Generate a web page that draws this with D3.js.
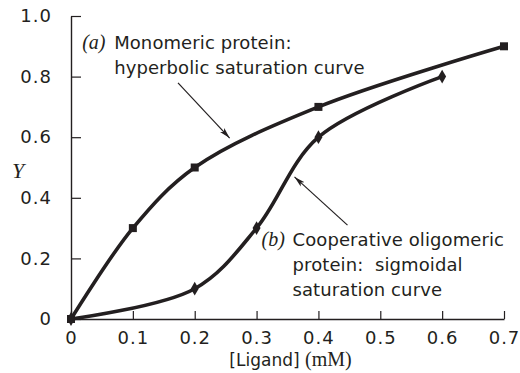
<!DOCTYPE html>
<html>
<head>
<meta charset="utf-8">
<script src="https://cdn.jsdelivr.net/npm/d3@7"></script>
<style>
  html, body { margin: 0; padding: 0; background: #fff; }
  svg { display: block; }
  .tick text { font-family: "DejaVu Sans", sans-serif; font-size: 18px; letter-spacing: 1px; fill: #231f20; }
  .ann { font-family: "DejaVu Sans", sans-serif; font-size: 18px; letter-spacing: 0.1px; fill: #231f20; }
  .it { font-family: "Liberation Serif", serif; font-style: italic; }
</style>
</head>
<body>
<svg id="chart" width="520" height="373"></svg>
<script>
// Fractional saturation Y versus ligand concentration (mM)
const xTicks = [0, 0.1, 0.2, 0.3, 0.4, 0.5, 0.6, 0.7];
const yTicks = [0, 0.2, 0.4, 0.6, 0.8, 1.0];
const monoLigand = [0, 0.1, 0.2, 0.4, 0.7];
const monoY      = [0, 0.3, 0.5, 0.7, 0.9];
const coopLigand = [0, 0.2, 0.3, 0.4, 0.6];
const coopY      = [0, 0.1, 0.3, 0.6, 0.8];

const ink = "#231f20";
const svg = d3.select("#chart");
const margin = { left: 71, right: 15, top: 16, bottom: 54 };
const W = 520, H = 373;

const x = d3.scaleLinear().domain([0, 0.7]).range([margin.left, W - margin.right - 1]);
const y = d3.scaleLinear().domain([0, 1]).range([H - margin.bottom, margin.top]);

// axes: ticks point inward
const xAxis = d3.axisBottom(x).tickValues(xTicks).tickSizeInner(-8).tickSizeOuter(0)
  .tickPadding(12).tickFormat(d => d === 0 ? "0" : d3.format(".1f")(d));
const yAxis = d3.axisLeft(y).tickValues(yTicks).tickSizeInner(-10).tickSizeOuter(0)
  .tickPadding(19).tickFormat(d => d === 0 ? "0" : d3.format(".1f")(d));

const gx = svg.append("g").attr("transform", `translate(0,${y(0)})`).call(xAxis);
const gy = svg.append("g").attr("transform", `translate(${x(0)},0)`).call(yAxis);
[gx, gy].forEach(g => {
  g.select(".domain").attr("stroke", ink).attr("stroke-width", 1.4);
  g.selectAll(".tick line").attr("stroke", ink).attr("stroke-width", 1.2);
  g.selectAll(".tick text").attr("fill", ink);
});
gx.selectAll(".tick text").attr("dy", "0.7em");

// axis titles
svg.append("text").attr("class", "it").attr("x", 18).attr("y", y(0.465))
  .attr("text-anchor", "middle").attr("font-size", 22).attr("fill", ink).text("Y");
const xt = svg.append("text").attr("x", (x(0) + x(0.7)) / 2 + 3).attr("y", 366)
  .attr("text-anchor", "middle").attr("fill", ink);
xt.append("tspan").attr("font-family", "DejaVu Sans, sans-serif").attr("font-size", 17).text("[Ligand] ");
xt.append("tspan").attr("font-family", "Liberation Serif, serif").attr("font-size", 20).text("(mM)");

// curves
const line = d3.line().x(d => x(d[0])).y(d => y(d[1])).curve(d3.curveCatmullRom.alpha(0.5));
const mono = monoLigand.map((v, i) => [v, monoY[i]]);
const coop = coopLigand.map((v, i) => [v, coopY[i]]);

svg.append("path").datum(mono).attr("d", line).attr("fill", "none")
  .attr("stroke", ink).attr("stroke-width", 3.6);
svg.append("path").datum(coop).attr("d", line).attr("fill", "none")
  .attr("stroke", ink).attr("stroke-width", 3.6);

// markers: squares for monomeric, diamonds for cooperative
svg.selectAll("rect.sq").data(mono).join("rect").attr("class", "sq")
  .attr("x", d => x(d[0]) - 4).attr("y", d => y(d[1]) - 4)
  .attr("width", 8).attr("height", 8).attr("fill", ink);
svg.selectAll("path.dm").data(coop).join("path").attr("class", "dm")
  .attr("d", d3.symbol(d3.symbolDiamond, 55))
  .attr("transform", d => `translate(${x(d[0])},${y(d[1])})`).attr("fill", ink);

// arrowhead
svg.append("defs").append("marker").attr("id", "ah")
  .attr("viewBox", "0 0 11 7").attr("refX", 11).attr("refY", 3.5)
  .attr("markerWidth", 11).attr("markerHeight", 7).attr("markerUnits", "userSpaceOnUse")
  .attr("orient", "auto")
  .append("path").attr("d", "M0,0.6 L11,3.5 L0,6.4 L2.5,3.5 Z").attr("fill", ink);

const arrows = [
  { from: [0.173, 0.779], to: [0.2565, 0.597] },
  { from: [0.447, 0.310], to: [0.3613, 0.469] }
];
svg.selectAll("line.arrow").data(arrows).join("line").attr("class", "arrow")
  .attr("x1", d => x(d.from[0])).attr("y1", d => y(d.from[1]))
  .attr("x2", d => x(d.to[0])).attr("y2", d => y(d.to[1]))
  .attr("stroke", ink).attr("stroke-width", 1.2).attr("marker-end", "url(#ah)");

// annotations
function label(xv, yv, tag, lines, indent) {
  const g = svg.append("g");
  g.append("text").attr("class", "it").attr("x", x(xv)).attr("y", y(yv))
    .attr("font-size", 20).attr("fill", ink).text(tag);
  lines.forEach((t, i) => {
    g.append("text").attr("class", "ann").attr("x", x(xv) + indent)
      .attr("y", y(yv) + i * 25).attr("xml:space", "preserve").text(t);
  });
}
label(0.018, 0.891, "(a)", ["Monomeric protein:", "hyperbolic saturation curve"], 32);
label(0.308, 0.241, "(b)", ["Cooperative oligomeric", "protein:  sigmoidal", "saturation curve"], 31);
</script>
</body>
</html>
